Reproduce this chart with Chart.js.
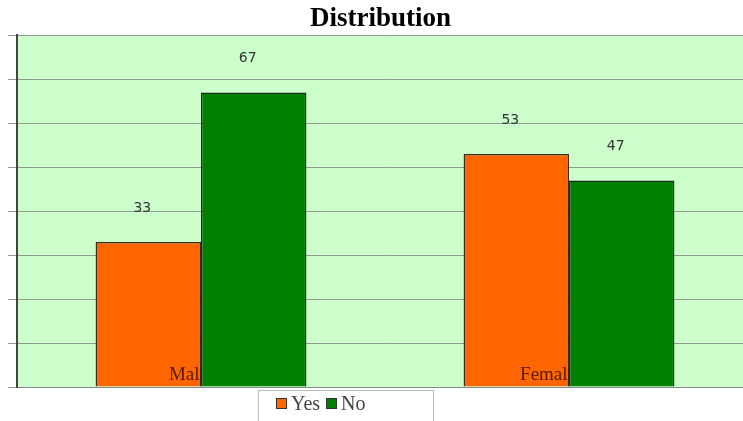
<!DOCTYPE html>
<html>
<head>
<meta charset="utf-8">
<script src="https://cdn.jsdelivr.net/npm/chart.js@4"></script>
<style>
  html, body { margin: 0; padding: 0; background: #fff; overflow: hidden; }
  #wrap { position: relative; width: 753px; height: 421px; }
  #legend {
    position: absolute; left: 258px; top: 390px; width: 176px; height: 40px;
    border: 1px solid #bbb; box-sizing: border-box;
    font-family: "Liberation Serif", serif; font-size: 20px; color: #444;
    padding: 0 0 0 17px; line-height: 24px;
  }
  #legend span.sw { display: inline-block; width: 9px; height: 9px; border: 1px solid #333; margin-right: 4px; vertical-align: 1px; }
  #legend span.item { margin-right: 6px; }
</style>
</head>
<body>
<div id="wrap">
  <canvas id="chart" width="753" height="421"></canvas>
  <div id="legend"></div>
</div>
<script>
const categories = ["Male", "Female"];
const yesValues = [33, 53];
const noValues = [67, 47];
const seriesNames = ["Yes", "No"];

const COLORS = {
  yes: "#ff6600",
  no: "#008000",
  plotBg: "#ccffcc",
  grid: "#8c9c8c",
  label: "#333",
  category: "#5a1800",
};

// plot background
const plotBg = {
  id: "plotBg",
  beforeDraw(chart) {
    const { ctx, chartArea: a } = chart;
    ctx.save();
    ctx.fillStyle = COLORS.plotBg;
    ctx.fillRect(a.left, a.top, a.right - a.left, a.bottom - a.top);
    ctx.restore();
  },
};

// category names sit inside the plot, hidden behind the "No" bars
const categoryLabels = {
  id: "categoryLabels",
  afterDatasetsDraw(chart) {
    const { ctx, chartArea: a } = chart;
    const x = chart.scales.x;
    ctx.save();
    ctx.beginPath();
    ctx.rect(a.left, a.top, a.right - a.left, a.bottom - a.top);
    chart.getDatasetMeta(1).data.forEach((bar) => {
      const w = bar.width;
      ctx.rect(bar.x - w / 2, bar.y, w, bar.base - bar.y);
    });
    ctx.clip("evenodd");
    ctx.font = "19px 'Liberation Serif', serif";
    ctx.fillStyle = COLORS.category;
    ctx.textAlign = "right";
    ctx.textBaseline = "middle";
    categories.forEach((c, i) => ctx.fillText(c, x.getPixelForValue(i) + 7, a.bottom - 12));
    ctx.restore();
  },
};

const valueLabels = {
  id: "valueLabels",
  afterDatasetsDraw(chart) {
    const { ctx } = chart;
    ctx.save();
    ctx.font = "14px 'DejaVu Sans', sans-serif";
    ctx.fillStyle = COLORS.label;
    ctx.textAlign = "center";
    ctx.textBaseline = "middle";
    chart.data.datasets.forEach((ds, di) => {
      chart.getDatasetMeta(di).data.forEach((bar, i) => {
        ctx.fillText(String(ds.data[i]), bar.x - 6, bar.y - 34);
      });
    });
    ctx.restore();
  },
};

new Chart(document.getElementById("chart"), {
  type: "bar",
  data: {
    labels: categories,
    datasets: [
      { label: seriesNames[0], data: yesValues, backgroundColor: COLORS.yes, borderColor: "#3a2a1a", borderWidth: 1.5 },
      { label: seriesNames[1], data: noValues, backgroundColor: COLORS.no, borderColor: "#1a2a1a", borderWidth: 1.5 },
    ],
  },
  options: {
    responsive: false,
    animation: false,
    layout: { padding: { left: 8, right: 0, top: 1, bottom: 34 } },
    datasets: { bar: { categoryPercentage: 0.573, barPercentage: 1 } },
    plugins: {
      legend: { display: false },
      tooltip: { enabled: false },
      title: {
        display: true,
        text: "Distribution",
        color: "#000",
        font: { family: "'Liberation Serif', serif", size: 27, weight: "bold" },
        padding: { top: 2, bottom: 0 },
      },
    },
    scales: {
      x: {
        grid: { display: false, drawTicks: false },
        ticks: { display: false },
        border: { color: "#888", width: 1 },
      },
      y: {
        min: 0,
        max: 80,
        ticks: { display: false, stepSize: 10 },
        grid: { color: COLORS.grid, tickLength: 9 },
        border: { color: "#444", width: 2 },
      },
    },
  },
  plugins: [plotBg, categoryLabels, valueLabels],
});

document.getElementById("legend").innerHTML = seriesNames
  .map((n, i) => `<span class="item"><span class="sw" style="background:${i ? COLORS.no : COLORS.yes}"></span>${n}</span>`)
  .join("");
</script>
</body>
</html>
